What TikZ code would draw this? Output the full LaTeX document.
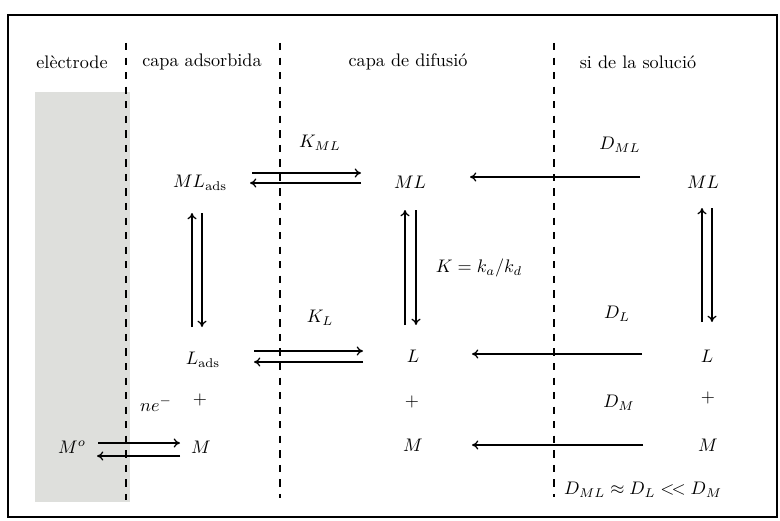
\documentclass[tikz,border=0pt]{standalone}
\usetikzlibrary{arrows.meta}
\definecolor{electrodegray}{RGB}{222,223,220}
\tikzset{
  lbl/.style={inner sep=0pt},
  fwd/.style={line width=0.7pt,-{To[length=3.5pt,width=5pt]}},
  boundary/.style={line width=0.6pt,dash pattern=on 4pt off 4pt},
}
\begin{document}
\begin{tikzpicture}[x=0.55pt,y=-0.55pt]
  \useasboundingbox (0,0) rectangle (780,521);
  % frame and electrode
  \fill[electrodegray] (35,92) rectangle (130,502);
  \draw[line width=0.9pt] (8,15) rectangle (777,517);
  \foreach \x/\y in {126/500,280/498,554/497} {\draw[boundary] (\x,43) -- (\x,\y);}
  % headers
  \node[lbl] (hdrE) at (72,62) {elèctrode};
  \node[lbl] (hdrA) at (202,62) {capa adsorbida};
  \node[lbl] (hdrD) at (408,62) {capa de difusió};
  \node[lbl] (hdrS) at (638,62) {si de la solució};
  % species
  \node[lbl] (mlads) at (200,183) {$ML_{\mathrm{ads}}$};
  \node[lbl] (mlM) at (410,182) {$ML$};
  \node[lbl] (mlR) at (703,182) {$ML$};
  \node[lbl] (lads) at (203,360) {$L_{\mathrm{ads}}$};
  \node[lbl] (lM) at (413,356) {$L$};
  \node[lbl] (lR) at (707,356) {$L$};
  \node[lbl] (ne) at (156,404) {$ne^{-}$};
  \node[lbl] (plA) at (200,400) {$+$};
  \node[lbl] (plM) at (412,402) {$+$};
  \node[lbl] (plR) at (708,398) {$+$};
  \node[lbl] (mo) at (72,447) {$M^{o}$};
  \node[lbl] (mA) at (201,447) {$M$};
  \node[lbl] (mM) at (413,445) {$M$};
  \node[lbl] (mR) at (708,445) {$M$};
  % constants
  \node[lbl] (kml) at (320,143) {$K_{ML}$};
  \node[lbl] (dml) at (620,145) {$D_{ML}$};
  \node[lbl] (kad) at (479,268) {$K = k_a/k_d$};
  \node[lbl] (kl) at (320,318) {$K_L$};
  \node[lbl] (dl) at (617,314) {$D_L$};
  \node[lbl] (dm) at (619,403) {$D_M$};
  \node[lbl] (rel) at (643,490) {$D_{ML} \approx D_L <\!< D_M$};
  % adsorption equilibria
  \draw[fwd] ([shift={(52,-10)}]mlads.center) -- ([shift={(-49,-9)}]mlM.center);
  \draw[fwd] ([shift={(-49,1)}]mlM.center) -- ([shift={(50,0)}]mlads.center);
  \draw[fwd] ([shift={(51,-9)}]lads.center) -- ([shift={(-50,-5)}]lM.center);
  \draw[fwd] ([shift={(-50,6)}]lM.center) -- ([shift={(51,2)}]lads.center);
  % reduction
  \draw[fwd] ([shift={(26,-4)}]mo.center) -- ([shift={(-21,-4)}]mA.center);
  \draw[fwd] ([shift={(-21,9)}]mA.center) -- ([shift={(25,9)}]mo.center);
  % complexation
  \draw[fwd] ([shift={(-11,-33)}]lads.center) -- ([shift={(-8,30)}]mlads.center);
  \draw[fwd] ([shift={(2,30)}]mlads.center) -- ([shift={(-1,-33)}]lads.center);
  \draw[fwd] ([shift={(-8,-31)}]lM.center) -- ([shift={(-5,28)}]mlM.center);
  \draw[fwd] ([shift={(6,28)}]mlM.center) -- ([shift={(3,-31)}]lM.center);
  \draw[fwd] ([shift={(-5,-34)}]lR.center) -- ([shift={(-1,26)}]mlR.center);
  \draw[fwd] ([shift={(9,26)}]mlR.center) -- ([shift={(5,-34)}]lR.center);
  % diffusion
  \draw[fwd] ([shift={(-63,-5)}]mlR.center) -- ([shift={(60,-5)}]mlM.center);
  \draw[fwd] ([shift={(-65,-2)}]lR.center) -- ([shift={(59,-2)}]lM.center);
  \draw[fwd] ([shift={(-65,0)}]mR.center) -- ([shift={(59,0)}]mM.center);
\end{tikzpicture}
\end{document}
